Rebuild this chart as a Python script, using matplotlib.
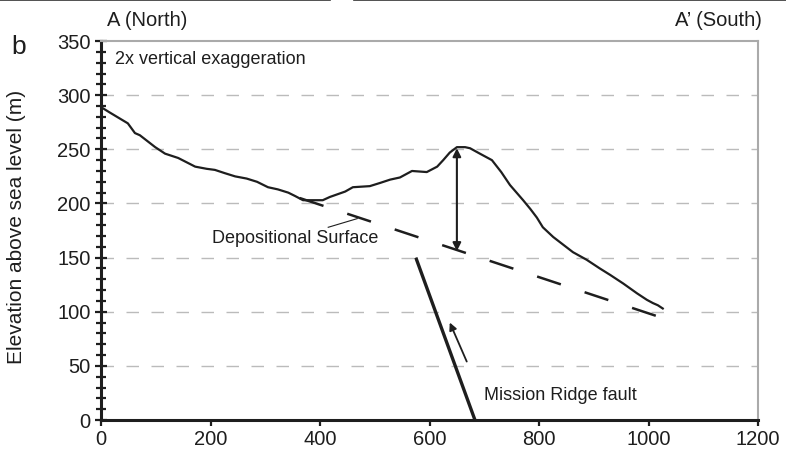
import matplotlib
matplotlib.use("Agg")
import matplotlib.pyplot as plt
from matplotlib.lines import Line2D
from matplotlib.ticker import MultipleLocator

plt.rcParams["font.family"] = ["Liberation Sans", "DejaVu Sans"]

# ground profile A - A'
profile_x = [0, 16, 49, 62, 71, 99, 117, 141, 172, 193, 208, 226, 245, 266, 285,
             305, 323, 342, 354, 369, 405, 418, 446, 460, 491, 510, 528, 546,
             568, 595, 614, 625, 637, 650, 665, 674, 692, 714, 731, 747, 771,
             784, 796, 807, 826, 844, 862, 887, 911, 930, 954, 979, 997, 1008,
             1017, 1026]
profile_y = [289, 284, 274, 265, 263, 252, 246, 242, 234, 232, 231, 228, 225, 223, 220,
             215, 213, 210, 207, 203, 203, 206, 211, 215, 216, 219, 222, 224,
             230, 229, 234, 240, 247, 252, 252, 251, 246, 240, 229, 217, 203,
             195, 187, 178, 169, 162, 155, 148, 140, 134, 126, 117, 111, 108,
             106, 103]

# depositional surface and fault trace
surface_x = [363, 1027]
surface_y = [205, 94]
fault_x = [575, 683]
fault_y = [150, 0]

# offset arrow and slip arrow
offset_x = 650
offset_top, offset_bottom = 251, 156
slip_tail = (668, 54)
slip_head = (637, 90)

fig = plt.figure(figsize=(7.86, 4.51), dpi=100)
ax = fig.add_axes([0.1285, 0.0687, 0.8359, 0.8403])

for g in [50, 100, 150, 200, 250, 300]:
    ax.axhline(g, color="#bbbbbb", linewidth=1.0, dashes=(9, 9), zorder=1)

ax.plot(profile_x, profile_y, color="#1e1e1e", linewidth=1.6, zorder=3)
ax.plot(surface_x, surface_y, color="#1e1e1e", linewidth=1.8,
        dashes=(10, 10), zorder=3)
ax.plot(fault_x, fault_y, color="#1e1e1e", linewidth=2.4, zorder=3,
        solid_capstyle="butt")

ax.annotate("", xy=(offset_x, offset_top), xytext=(offset_x, offset_bottom),
            arrowprops=dict(arrowstyle="<|-|>", color="#1e1e1e", lw=1.5,
                            mutation_scale=12, shrinkA=0, shrinkB=0))
ax.annotate("", xy=slip_head, xytext=slip_tail,
            arrowprops=dict(arrowstyle="-|>", color="#1e1e1e", lw=1.3,
                            mutation_scale=11, shrinkA=0, shrinkB=0))
ax.plot([415, 468], [178, 186], color="#1e1e1e", linewidth=0.8)

ax.text(26, 333, "2x vertical exaggeration", fontsize=13, va="center",
        color="#1e1e1e")
ax.text(203, 168, "Depositional Surface", fontsize=13, va="center",
        color="#1e1e1e")
ax.text(700, 23, "Mission Ridge fault", fontsize=13, va="center",
        color="#1e1e1e")

ax.set_xlim(0, 1200)
ax.set_ylim(0, 350)
ax.set_xticks(range(0, 1201, 200))
ax.yaxis.set_major_locator(MultipleLocator(50))
ax.yaxis.set_minor_locator(MultipleLocator(10))
ax.tick_params(axis="y", which="major", direction="inout", length=9,
               width=1.6, labelsize=14.5, colors="#1e1e1e", pad=3)
ax.tick_params(axis="y", which="minor", direction="inout", length=7,
               width=1.6, colors="#1e1e1e")
ax.tick_params(axis="x", which="major", direction="out", length=4,
               width=1.6, labelsize=14.5, colors="#1e1e1e", pad=3)

for s in ["left", "bottom"]:
    ax.spines[s].set_linewidth(2.2)
    ax.spines[s].set_color("#1e1e1e")
for s in ["top", "right"]:
    ax.spines[s].set_linewidth(1.5)
    ax.spines[s].set_color("#aaaaaa")

ax.set_ylabel("Elevation above sea level (m)", fontsize=15, color="#1e1e1e")
ax.yaxis.set_label_coords(-0.114, 0.51)

fig.text(107 / 786, 1 - 21 / 451, "A (North)", fontsize=14.5, va="center",
         color="#1e1e1e")
fig.text(762 / 786, 1 - 21 / 451, "A\u2019 (South)", fontsize=14.5, va="center",
         ha="right", color="#1e1e1e")
fig.text(11 / 786, 1 - 47 / 451, "b", fontsize=19, va="center",
         color="#1e1e1e")

# cut-off rule from the panel above
fig.add_artist(Line2D([0, 330 / 786], [0.999, 0.999], color="#333333",
                      linewidth=1.2))
fig.add_artist(Line2D([354 / 786, 1], [0.999, 0.999], color="#333333",
                      linewidth=1.2))

fig.savefig("out.png", dpi=100)
